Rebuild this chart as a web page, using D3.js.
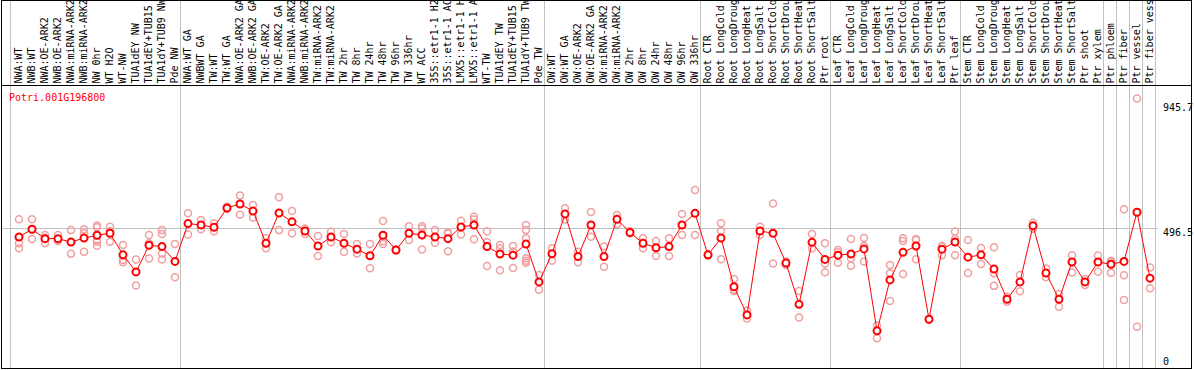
<!DOCTYPE html>
<html>
<head>
<meta charset="utf-8">
<script src="https://cdn.jsdelivr.net/npm/d3@7"></script>
<style>
  body { margin: 0; background: #fff; }
  text { font-family: "DejaVu Sans Mono", monospace; font-size: 10px; }
</style>
</head>
<body>
<div id="chart"></div>
<script>
const geneName = "Potri.001G196800";

const categories = [
  "NWA:WT", "NWB:WT", "NWA:OE-ARK2", "NWB:OE-ARK2", "NWA:miRNA-ARK2", "NWB:miRNA-ARK2",
  "NW 0hr", "WT H2O", "WT-NW", "TUA1dEY NW", "TUA1dEY+TUB15 NW", "TUA1dY+TUB9 NW", "Pde NW",
  "NWA:WT GA", "NWBWT GA", "TW:WT", "TW:WT GA", "NWA:OE-ARK2 GA", "NWB:OE-ARK2 GA",
  "TW:OE-ARK2", "TW:OE-ARK2 GA", "NWA:miRNA-ARK2", "NWB:miRNA-ARK2", "TW:miRNA-ARK2", "TW:miRNA-ARK2",
  "TW 2hr", "TW 8hr", "TW 24hr", "TW 48hr", "TW 96hr", "TW 336hr", "WT ACC",
  "35S::etr1-1 H2O", "35S::etr1-1 ACC", "LMX5::etr1-1 H2O", "LMX5::etr1-1 ACC",
  "WT-TW", "TUA1dEY TW", "TUA1dEY+TUB15 TW", "TUA1dY+TUB9 TW", "Pde TW",
  "OW:WT", "OW:WT GA", "OW:OE-ARK2", "OW:OE-ARK2 GA", "OW:miRNA-ARK2", "OW:miRNA-ARK2",
  "OW 2hr", "OW 8hr", "OW 24hr", "OW 48hr", "OW 96hr", "OW 336hr",
  "Root CTR", "Root LongCold", "Root LongDrought", "Root LongHeat", "Root LongSalt",
  "Root ShortCold", "Root ShortDrought", "Root ShortHeat", "Root ShortSalt", "Ptr root",
  "Leaf CTR", "Leaf LongCold", "Leaf LongDrought", "Leaf LongHeat", "Leaf LongSalt",
  "Leaf ShortCold", "Leaf ShortDrought", "Leaf ShortHeat", "Leaf ShortSalt", "Ptr leaf",
  "Stem CTR", "Stem LongCold", "Stem LongDrought", "Stem LongHeat", "Stem LongSalt",
  "Stem ShortCold", "Stem ShortDrought", "Stem ShortHeat", "Stem ShortSalt",
  "Ptr shoot", "Ptr xylem", "Ptr phloem", "Ptr fiber", "Ptr vessel", "Ptr fiber vessel"
];

// index of the last sample in each group (grey separators)
const groupEnds = [12, 40, 52, 62, 72, 83, 84, 85, 86, 87];

const means = [
  466, 493, 460, 460, 448, 462, 472, 479, 403, 343, 437, 432, 380,
  513, 508, 500, 568, 582, 557, 444, 550, 519, 487, 434, 466, 444,
  423, 400, 472, 420, 479, 473, 466, 460, 501, 508, 432, 406, 402, 441, 308,
  407, 547, 397, 508, 397, 528, 482, 444, 428, 432, 508, 549,
  403, 462, 291, 192, 487, 479, 374, 229, 447, 387,
  402, 406, 424, 136, 315, 412, 434, 177, 423, 448,
  395, 403, 353, 247, 308, 505, 339, 247, 378, 308,
  378, 370, 380, 553, 321
];

const replicates = [
  [528, 444, 426], [528, 459, 493], [473, 444, 463], [473, 452, 456], [490, 407, 448],
  [493, 414, 479], [506, 500, 455, 449, 435], [502, 449, 486], [438, 385, 377], [387, 295],
  [473, 444, 390], [490, 476, 408, 387], [441, 324],
  [549, 475], [526, 493], [514, 486], [572, 564], [612, 544], [578, 534], [461, 426],
  [606, 490], [557, 479], [496, 476], [469, 399], [484, 447], [476, 414], [441, 408],
  [441, 356], [522, 441, 451], [422, 418], [504, 455], [504, 496, 422], [490, 446],
  [482, 478, 416], [523, 475], [537, 458, 527], [486, 364, 447], [438, 426, 349],
  [434, 357, 415], [508, 490, 461, 391, 382, 375], [332, 280],
  [426, 382], [567, 527], [414, 377], [554, 467], [432, 361], [543, 511], [486, 478],
  [461, 426], [452, 399], [461, 399], [547, 473, 508], [631, 473],
  [405, 400], [514, 487, 388], [318, 280, 276], [207, 179], [502, 473], [584, 373],
  [380, 367], [276, 183], [476, 426], [444, 373, 342],
  [420, 412, 375], [459, 391, 365], [462, 434, 380], [155, 110], [367, 338, 241],
  [461, 452, 336], [459, 455, 388], [176, 174], [434, 432, 402], [485, 459, 402],
  [455, 339], [427, 371], [430, 338, 294], [256, 238], [332, 275], [516, 495],
  [355, 324], [265, 221], [402, 341], [318, 297],
  [401, 344], [382, 378, 340], [563, 331, 244], [953, 150], [359, 286]
];

const yTicks = [0, 496.5, 945.7];
const refLine = 496.5;

const width = 1194, height = 370;

const svg = d3.select("#chart")
  .append("svg")
    .attr("width", width)
    .attr("height", height);

const x = d3.scalePoint()
  .domain(d3.range(categories.length))
  .range([19, 19 + 13 * (categories.length - 1)]);

const y = d3.scaleLinear()
  .domain([0, 945.7])
  .range([369.5, 100.5]);

// group separators
const sepX = [x(0) - 8.5].concat(groupEnds.map(i => x(i) + 5.5));
svg.selectAll(".sep")
  .data(sepX)
  .enter()
  .append("line")
    .attr("x1", d => d).attr("x2", d => d)
    .attr("y1", 0).attr("y2", 368)
    .attr("stroke", "#c0c0c0");

// reference line
svg.append("line")
  .attr("x1", 2).attr("x2", 1158)
  .attr("y1", Math.round(y(refLine)) + 0.5).attr("y2", Math.round(y(refLine)) + 0.5)
  .attr("stroke", "#c0c0c0");

// frame
const frame = svg.append("g").attr("stroke", "#000").attr("fill", "none");
frame.append("line").attr("x1", 1.5).attr("x2", 1.5).attr("y1", 0).attr("y2", 369);
frame.append("line").attr("x1", 1191.5).attr("x2", 1191.5).attr("y1", 0).attr("y2", 369);
frame.append("line").attr("x1", 1).attr("x2", 1192).attr("y1", 0.5).attr("y2", 0.5);
frame.append("line").attr("x1", 1).attr("x2", 1192).attr("y1", 85.5).attr("y2", 85.5);
frame.append("line").attr("x1", 1).attr("x2", 1192).attr("y1", 368.5).attr("y2", 368.5);

// sample labels
svg.selectAll(".lab")
  .data(categories)
  .enter()
  .append("text")
    .attr("transform", (d, i) => `translate(${x(i) + 3},83.5) rotate(-90)`)
    .attr("fill", "#000")
    .text(d => d);

// gene name
svg.append("text")
  .attr("x", 9).attr("y", 100.5)
  .attr("fill", "#ff0000")
  .text(geneName);

// y labels
svg.selectAll(".ylab")
  .data(yTicks)
  .enter()
  .append("text")
    .attr("x", 1163)
    .attr("y", d => Math.min(Math.max(y(d) + 8, 111), 365))
    .attr("fill", "#000")
    .text(d => d);

// replicate points
const reps = [];
replicates.forEach((arr, i) => arr.forEach(v => reps.push({ i: i, v: v })));
svg.selectAll(".rep")
  .data(reps)
  .enter()
  .append("circle")
    .attr("cx", d => x(d.i))
    .attr("cy", d => y(d.v))
    .attr("r", 3.5)
    .attr("fill", "none")
    .attr("stroke", "#f0a0a0")
    .attr("stroke-width", 1.5);

// mean line
svg.append("path")
  .datum(means)
  .attr("fill", "none")
  .attr("stroke", "#ff0000")
  .attr("stroke-width", 1)
  .attr("d", d3.line().x((d, i) => x(i)).y(d => y(d)));

svg.selectAll(".mean")
  .data(means)
  .enter()
  .append("circle")
    .attr("cx", (d, i) => x(i))
    .attr("cy", d => y(d))
    .attr("r", 3.5)
    .attr("fill", "#fff")
    .attr("stroke", "#ff0000")
    .attr("stroke-width", 2);
</script>
</body>
</html>
